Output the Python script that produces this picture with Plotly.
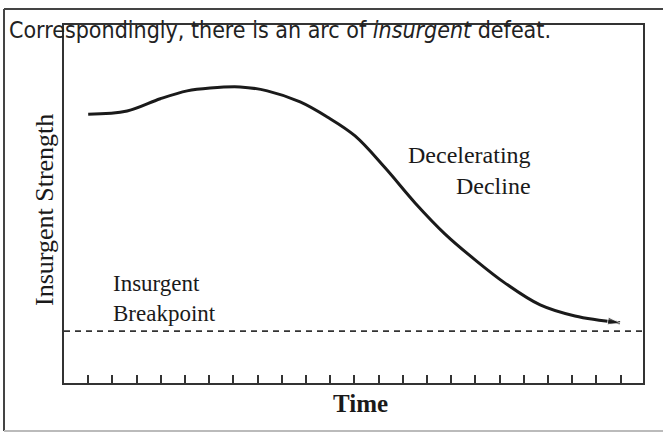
import plotly.graph_objects as go

# ---- data ----
time_x = [1.0, 2.61, 3.98, 5.09, 6.04, 7.28, 8.40, 9.76, 10.88, 12.03, 13.27,
          14.51, 15.75, 16.99, 18.23, 19.68, 21.12, 22.98]
strength_y = [75.1, 76.0, 79.4, 81.6, 82.4, 82.7, 81.6, 78.5, 74.3, 69.0, 60.1,
              50.3, 41.6, 34.4, 27.9, 21.8, 18.7, 16.8]
breakpoint_level = 14.5
tick_positions = list(range(1, 24))
caption = "Correspondingly, there is an arc of <i>insurgent</i> defeat."
x_title = "Time"
y_title = "Insurgent Strength"
label_breakpoint = "Insurgent<br>Breakpoint"
label_decline = "Decelerating<br>Decline"

W, H = 663, 433
ML, MR, MT, MB = 64, 20, 25, 50
PW, PH = W - ML - MR, H - MT - MB

def px(x):
    return (x - ML) / PW

def py(y):
    return (H - MB - y) / PH

SERIF = "Liberation Serif, Times New Roman, serif"
INK = "#1a1a1a"

fig = go.Figure()
n = len(time_x)
fig.add_trace(go.Scatter(
    x=time_x, y=strength_y, mode="lines+markers", line_shape="spline",
    line=dict(color=INK, width=3),
    marker=dict(symbol="arrow", angleref="previous", color=INK,
                size=[0] * (n - 1) + [13]),
    hoverinfo="skip", showlegend=False))

fig.add_trace(go.Scatter(
    x=[0, 24], y=[breakpoint_level, breakpoint_level], mode="lines",
    line=dict(color="#333", width=1.8, dash="6px,5px"),
    hoverinfo="skip", showlegend=False))

fig.update_layout(
    width=W, height=H,
    margin=dict(l=ML, r=MR, t=MT, b=MB),
    paper_bgcolor="white", plot_bgcolor="white",
    xaxis=dict(range=[0, 23.93], showgrid=False, zeroline=False,
               tickmode="array", tickvals=tick_positions, ticktext=[""] * len(tick_positions),
               ticks="inside", ticklen=8, tickwidth=1.6, tickcolor="#333",
               showline=True, linecolor="#333", linewidth=2, mirror=True),
    yaxis=dict(range=[0, 100], showgrid=False, zeroline=False,
               showticklabels=False, ticks="",
               showline=True, linecolor="#333", linewidth=2, mirror=True),
    font=dict(family=SERIF, color=INK),
)

annotations = [
    dict(text=caption, x=px(7), y=py(30), xanchor="left", yanchor="middle",
         font=dict(family="Liberation Sans Narrow, DejaVu Sans Condensed, Roboto, sans-serif",
                   size=23, color="#222")),
    dict(text="<b>" + x_title + "</b>", x=px(360), y=py(403), xanchor="center", yanchor="middle",
         font=dict(family=SERIF, size=25, color=INK)),
    dict(text=y_title, x=px(45), y=py(210), xanchor="center", yanchor="middle",
         textangle=-90, font=dict(family=SERIF, size=26, color=INK)),
    dict(text=label_breakpoint, x=px(111), y=py(298), xanchor="left", yanchor="middle",
         align="left", font=dict(family=SERIF, size=23, color=INK)),
    dict(text=label_decline, x=px(533), y=py(170), xanchor="right", yanchor="middle",
         align="right", font=dict(family=SERIF, size=24, color=INK)),
]
for a in annotations:
    a.update(xref="paper", yref="paper", showarrow=False)
fig.update_layout(annotations=annotations)

fig.update_layout(shapes=[
    dict(type="line", xref="paper", yref="paper", x0=px(4), x1=px(670), y0=py(9), y1=py(9),
         line=dict(color="#444", width=2)),
    dict(type="line", xref="paper", yref="paper", x0=px(4), x1=px(4), y0=py(9), y1=py(431),
         line=dict(color="#444", width=2)),
    dict(type="line", xref="paper", yref="paper", x0=px(4), x1=px(670), y0=py(431), y1=py(431),
         line=dict(color="#bbb", width=2)),
])

fig.write_html("out.html", config={"displayModeBar": False},
               post_script="document.body.style.margin='0';document.body.style.padding='0';")
